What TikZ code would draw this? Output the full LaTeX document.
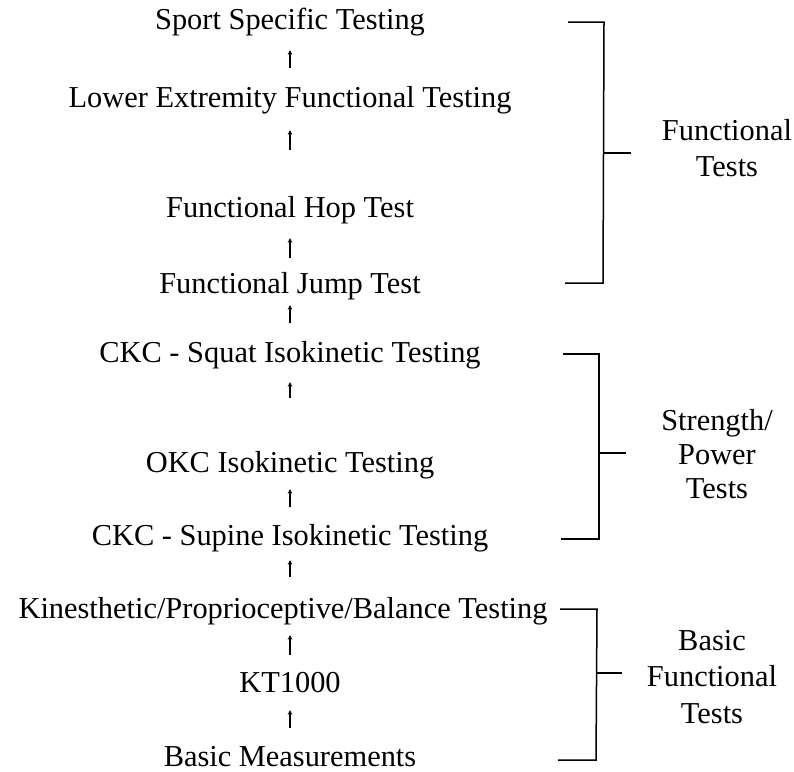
\documentclass[tikz,border=0pt]{standalone}
\usepackage{fontspec}
\setmainfont{Liberation Serif}
\usetikzlibrary{arrows.meta}
\tikzset{
  lbl/.style={inner sep=0pt, anchor=base, font=\fontsize{30.4}{36}\selectfont,
              text height=21.3pt, text depth=7.6pt},
  grp/.style={inner sep=0pt, anchor=north, align=center},
  arr/.style={line width=1.2pt, -{Stealth[length=4.5pt,width=4.5pt]}},
  brk/.style={line width=1.5pt, line cap=butt, line join=miter}
}
\begin{document}
\begin{tikzpicture}[x=1pt,y=-1pt]
\useasboundingbox (0,0) rectangle (794,771);
% column of tests
\node[lbl] (sport) at (290,29)  {Sport Specific Testing};
\node[lbl] (lower) at (290,107) {Lower Extremity Functional Testing};
\node[lbl] (hop)   at (290,217) {Functional Hop Test};
\node[lbl] (jump)  at (290,293) {Functional Jump Test};
\node[lbl] (squat) at (290,362) {CKC - Squat Isokinetic Testing};
\node[lbl] (okc)   at (290,472) {OKC Isokinetic Testing};
\node[lbl] (supine) at (290,545) {CKC - Supine Isokinetic Testing};
\node[lbl] (kin)   at (283,618) {Kinesthetic/Proprioceptive/Balance Testing};
\node[lbl] (kt)    at (290,692) {KT1000};
\node[lbl] (basic) at (290,766) {Basic Measurements};
% arrows
\draw[arr, shorten <=17.7pt, shorten >=13.4pt] (lower.north) -- (sport.south);
\draw[arr, shorten <=45.7pt, shorten >=15.4pt] (hop.north) -- (lower.south);
\draw[arr, shorten <=13.7pt, shorten >=13.4pt] (jump.north) -- (hop.south);
\draw[arr, shorten <=17.7pt, shorten >=4.4pt]  (squat.north) -- (jump.south);
\draw[arr, shorten <=52.7pt, shorten >=12.4pt] (okc.north) -- (squat.south);
\draw[arr, shorten <=16.7pt, shorten >=9.4pt]  (supine.north) -- (okc.south);
\draw[arr, shorten <=19.7pt, shorten >=7.4pt]  (kin.north -| supine.north) -- (supine.south);
\draw[arr, shorten <=15.7pt, shorten >=9.4pt]  (kt.north) -- (kin.south -| kt.south);
\draw[arr, shorten <=16.7pt, shorten >=10.4pt] (basic.north) -- (kt.south);
% group labels
\node[grp, font=\fontsize{30.4}{36}\selectfont] (gfun) at (727,119) {Functional\\Tests};
\node[grp, font=\fontsize{30.4}{34}\selectfont] (gstr) at (717,409) {Strength/\\Power\\Tests};
\node[grp, font=\fontsize{30.4}{36.5}\selectfont] (gbas) at (712,630) {Basic\\Functional\\Tests};
% brackets
\coordinate (f1) at (568,22);  \coordinate (f2) at (604,22);
\coordinate (f3) at (603,283); \coordinate (f4) at (565,283);
\coordinate (ft1) at (604,153); \coordinate (ft2) at (631,153);
\draw[brk] (f1) -- (f2) -- (f3) -- (f4);
\draw[brk] (ft1) -- (ft2);
\coordinate (s1) at (563,354); \coordinate (s2) at (599,354);
\coordinate (s3) at (599,539); \coordinate (s4) at (561,539);
\coordinate (st1) at (599,453); \coordinate (st2) at (626,453);
\draw[brk] (s1) -- (s2) -- (s3) -- (s4);
\draw[brk] (st1) -- (st2);
\coordinate (b1) at (560,609); \coordinate (b2) at (597,609);
\coordinate (b3) at (596,760); \coordinate (b4) at (558,760);
\coordinate (bt1) at (596,673); \coordinate (bt2) at (622,673);
\draw[brk] (b1) -- (b2) -- (b3) -- (b4);
\draw[brk] (bt1) -- (bt2);
\end{tikzpicture}
\end{document}
